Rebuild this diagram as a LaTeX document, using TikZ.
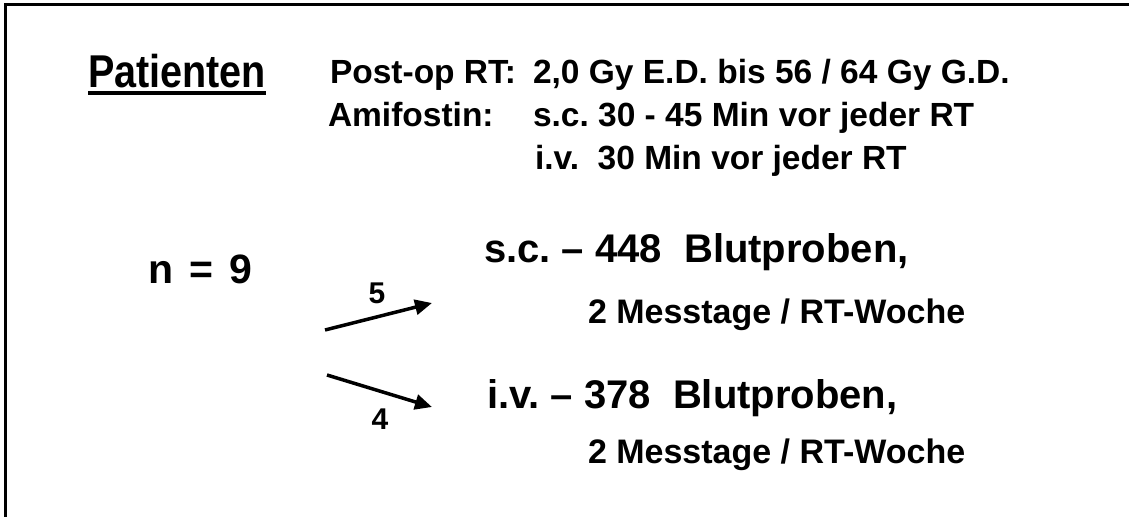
\documentclass[tikz,border=0pt]{standalone}
\usepackage{fontspec}
\setmainfont{Liberation Sans}
\usepackage{graphicx}
\usetikzlibrary{arrows.meta}
\frenchspacing
\tikzset{
  txt/.style={anchor=base west, inner sep=0pt, outer sep=0pt},
  head/.style={txt, font=\fontsize{33.5}{33.5}\bfseries\selectfont},
  big/.style={txt, font=\fontsize{40}{40}\bfseries\selectfont},
  small/.style={txt, font=\fontsize{34}{34}\bfseries\selectfont},
  rule/.style={line width=3.5pt, line cap=butt},
  flow/.style={line width=3.5pt, -{Triangle[length=17pt,width=15pt]}},
  num/.style={anchor=base, inner sep=0pt, font=\fontsize{30}{30}\bfseries\selectfont}
}
\begin{document}
\begin{tikzpicture}[x=1pt,y=-1pt]
\useasboundingbox (0,0) rectangle (1129,517);
\fill[white] (0,0) rectangle (1129,517);
% frame
\coordinate (tl) at (5.5,4.5);
\coordinate (tr) at (1129,4.5);
\coordinate (bl) at (5.5,517);
\draw[rule] (tr) -- (tl) -- (bl);
% title
\node[txt, font=\fontsize{46}{46}\bfseries\selectfont] (pat) at (88,87) {\scalebox{0.86}[1]{Patienten}};
\draw[line width=4pt] ([yshift=-6pt]pat.base west) -- ([yshift=-6pt]pat.base east);
% header lines
\node[head] (post) at (330,83) {Post-op RT:};
\node[head] (postv) at (533,83) {2,0 Gy E.D. bis 56 / 64 Gy G.D.};
\node[head] (ami) at (328,126) {Amifostin:};
\node[head] (amisc) at (533,126) {s.c. 30 - 45 Min vor jeder RT};
\node[head] (amiiv) at (535,169) {i.v.\ \ 30 Min vor jeder RT};
% n
\node[txt, font=\fontsize{41}{41}\bfseries\selectfont] (n) at (148,283) {n\hspace{0.4em}=\hspace{0.4em}9};
% targets
\node[big] (sc) at (484,262) {s.c. -- 448\ \ Blutproben,};
\node[small] (sc2) at (588,323) {2 Messtage / RT-Woche};
\node[big] (iv) at (487,408) {i.v. -- 378\ \ Blutproben,};
\node[small] (iv2) at (588,463) {2 Messtage / RT-Woche};
% arrows
\coordinate (a1s) at (325,330);
\coordinate (a1e) at (432,303);
\coordinate (a2s) at (327,375);
\coordinate (a2e) at (432,407);
\draw[flow] (a1s) -- (a1e);
\draw[flow] (a2s) -- (a2e);
\node[num] (five) at (377,303) {5};
\node[num] (four) at (380,429) {4};
\end{tikzpicture}
\end{document}
